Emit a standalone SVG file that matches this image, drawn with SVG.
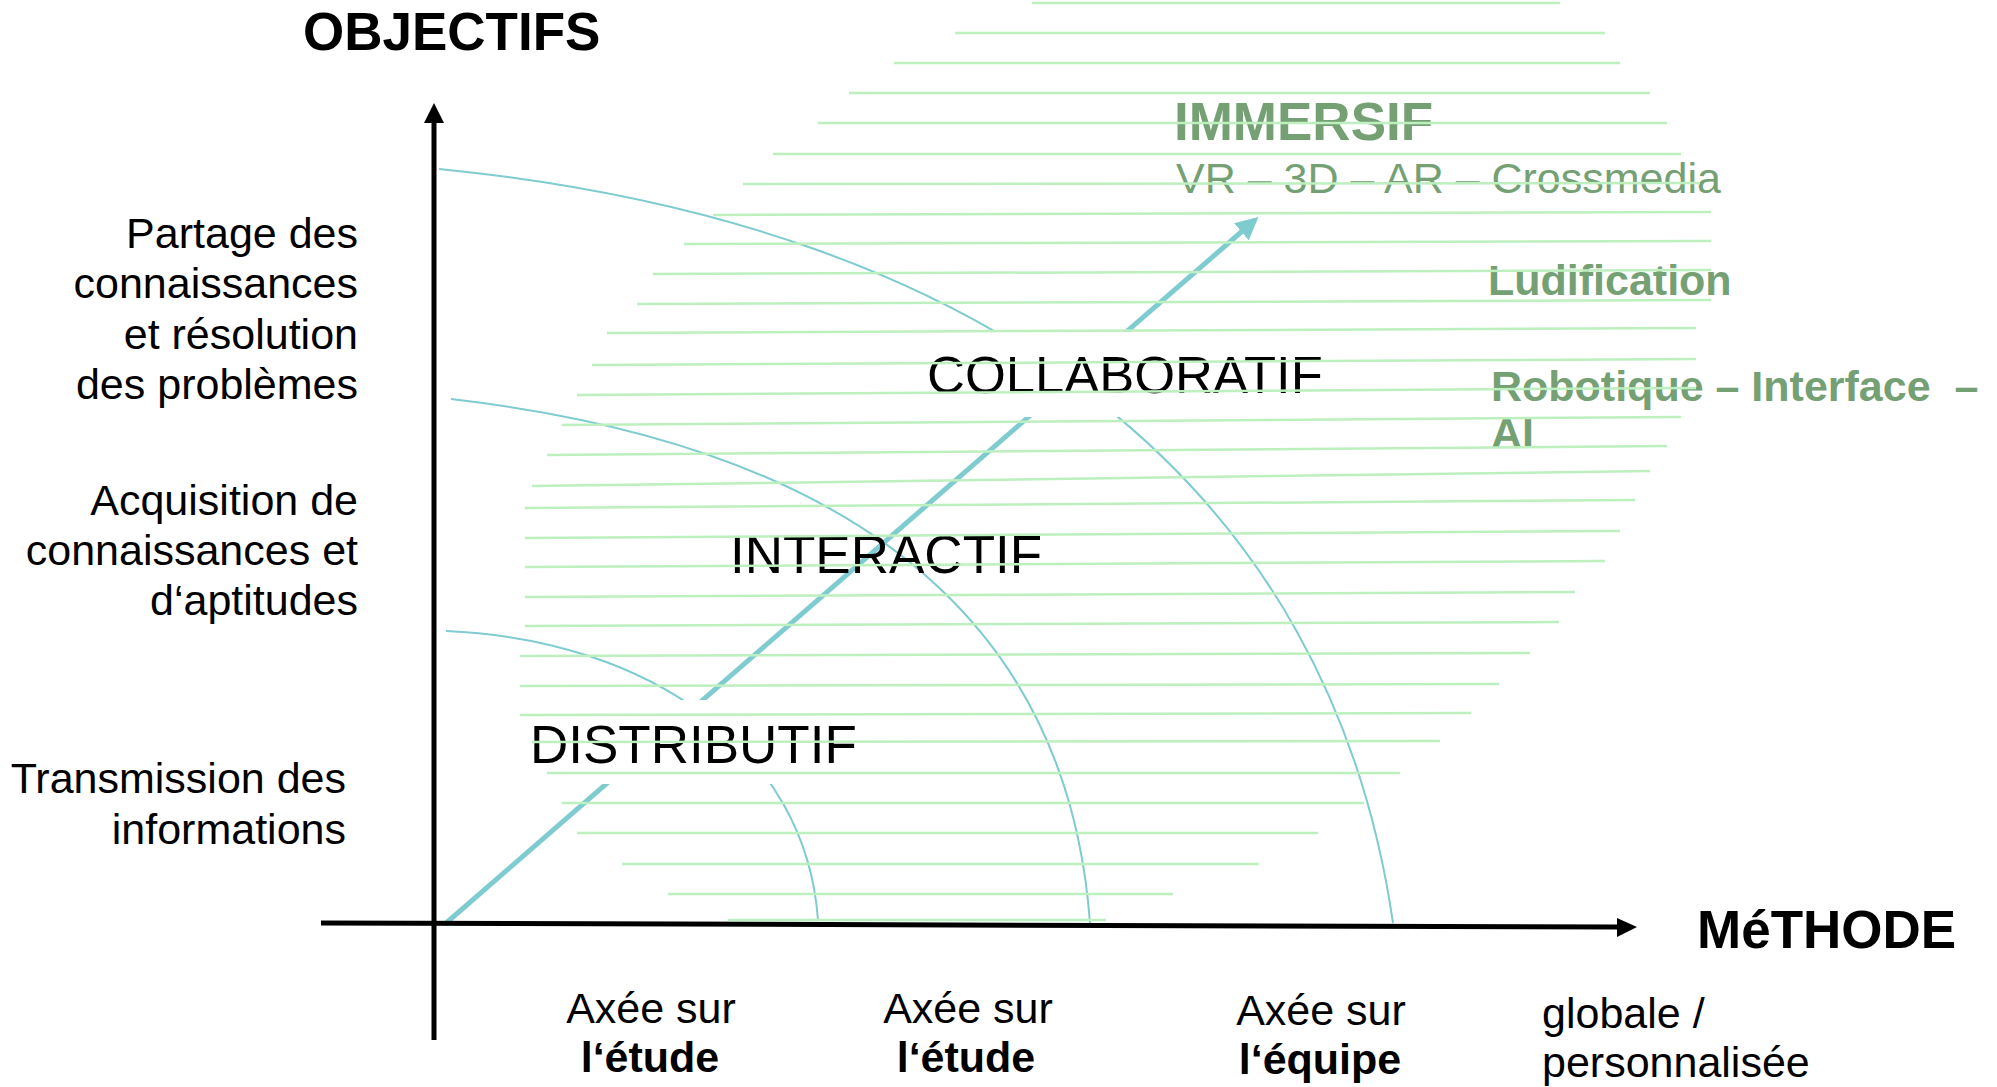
<svg xmlns="http://www.w3.org/2000/svg" width="1997" height="1087" viewBox="0 0 1997 1087">
<style>
.t{font-family:"Liberation Sans",Arial,sans-serif;font-size:43px;fill:#000}
.tr{text-anchor:end}
.tm{text-anchor:middle}
.b{font-weight:bold}
.big{font-size:53px}
.gt{fill:#74a074}
.arc{fill:none;stroke:#7ecbd0;stroke-width:2}
.gl{stroke:#bdefbf;stroke-width:2.5}
.ax{stroke:#000;stroke-width:5;fill:none}
</style>
<defs>
<marker id="tealHead" viewBox="0 0 10 10" refX="8" refY="5" markerWidth="4.5" markerHeight="4.5" orient="auto" markerUnits="strokeWidth">
<path d="M0,0 L10,5 L0,10 z" fill="#7ecbd0"/>
</marker>
</defs>
<rect width="1997" height="1087" fill="#fff"/>

<g id="connectors">
<path class="arc" d="M446,631 C651,640 806,750 818,920"/>
<path class="arc" d="M451,399 C803,440 1065,585 1090,923"/>
<path class="arc" d="M439,169 C1000,225 1330,490 1393,923"/>
<line x1="445" y1="924" x2="1255" y2="220" stroke="#7ecbd0" stroke-width="5" marker-end="url(#tealHead)"/>
</g>

<g id="axes">
<line class="ax" x1="434" y1="120" x2="434" y2="1040"/>
<polygon points="434,103 424,123 444,123" fill="#000"/>
<line class="ax" x1="321" y1="923" x2="1618" y2="927"/>
<polygon points="1637,927 1617,918 1617,937" fill="#000"/>
</g>

<g id="node-distributif">
<rect x="525" y="700" width="340" height="84" fill="#fff"/>
<text class="t big" x="530" y="763">DISTRIBUTIF</text>
</g>
<g id="node-interactif">
<text class="t big" x="730" y="573">INTERACTIF</text>
</g>
<g id="node-collaboratif">
<rect x="920" y="332" width="415" height="85" fill="#fff"/>
<text class="t" style="font-size:52.5px" x="927" y="393">COLLABORATIF</text>
</g>
<g id="node-immersif">
<text class="t big b gt" x="1174" y="140">IMMERSIF</text>
<text class="t gt" x="1176" y="193">VR – 3D – AR – Crossmedia</text>
</g>
<g id="node-ludification">
<text class="t b gt" x="1488" y="295">Ludification</text>
</g>
<g id="node-robotique">
<text class="t b gt" x="1491" y="401" style="white-space:pre">Robotique – Interface  –</text>
<text class="t b gt" x="1491" y="448">AI</text>
</g>

<g id="title-objectifs">
<text class="t big b" x="303" y="50">OBJECTIFS</text>
</g>
<g id="title-methode">
<text class="t big b" x="1697" y="948">MéTHODE</text>
</g>

<g id="label-partage">
<text class="t tr" x="358" y="248">Partage des</text>
<text class="t tr" x="358" y="298">connaissances</text>
<text class="t tr" x="358" y="349">et résolution</text>
<text class="t tr" x="358" y="399">des problèmes</text>
</g>
<g id="label-acquisition">
<text class="t tr" x="358" y="515">Acquisition de</text>
<text class="t tr" x="358" y="565">connaissances et</text>
<text class="t tr" x="358" y="615">d‘aptitudes</text>
</g>
<g id="label-transmission">
<text class="t tr" x="346" y="793">Transmission des</text>
<text class="t tr" x="346" y="844">informations</text>
</g>

<g id="label-etude-1">
<text class="t tm" x="651" y="1023">Axée sur</text>
<text class="t tm b" x="650" y="1072">l‘étude</text>
</g>
<g id="label-etude-2">
<text class="t tm" x="968" y="1023">Axée sur</text>
<text class="t tm b" x="966" y="1072">l‘étude</text>
</g>
<g id="label-equipe">
<text class="t tm" x="1321" y="1025">Axée sur</text>
<text class="t tm b" x="1320" y="1074">l‘équipe</text>
</g>
<g id="label-globale">
<text class="t" x="1542" y="1028">globale /</text>
<text class="t" x="1542" y="1077">personnalisée</text>
</g>

<g id="hatching">
<line class="gl" x1="1032" y1="3" x2="1560" y2="3"/>
<line class="gl" x1="955" y1="33" x2="1605" y2="33"/>
<line class="gl" x1="894" y1="63" x2="1620" y2="63"/>
<line class="gl" x1="849" y1="93" x2="1650" y2="93"/>
<line class="gl" x1="818" y1="123" x2="1667" y2="123"/>
<line class="gl" x1="773" y1="154" x2="1681" y2="154"/>
<line class="gl" x1="743" y1="184" x2="1700" y2="183"/>
<line class="gl" x1="713" y1="215" x2="1711" y2="212"/>
<line class="gl" x1="684" y1="244" x2="1711" y2="241"/>
<line class="gl" x1="653" y1="274" x2="1711" y2="270"/>
<line class="gl" x1="637" y1="304" x2="1711" y2="300"/>
<line class="gl" x1="607" y1="333" x2="1696" y2="328"/>
<line class="gl" x1="592" y1="365" x2="1696" y2="359"/>
<line class="gl" x1="577" y1="395" x2="1696" y2="388"/>
<line class="gl" x1="562" y1="425" x2="1681" y2="417"/>
<line class="gl" x1="547" y1="455" x2="1667" y2="446"/>
<line class="gl" x1="532" y1="486" x2="1650" y2="471"/>
<line class="gl" x1="525" y1="508" x2="1635" y2="500"/>
<line class="gl" x1="525" y1="538" x2="1620" y2="531"/>
<line class="gl" x1="525" y1="567" x2="1605" y2="561"/>
<line class="gl" x1="525" y1="597" x2="1575" y2="592"/>
<line class="gl" x1="525" y1="626" x2="1559" y2="622"/>
<line class="gl" x1="520" y1="656" x2="1530" y2="653"/>
<line class="gl" x1="520" y1="686" x2="1499" y2="684"/>
<line class="gl" x1="520" y1="715" x2="1471" y2="713"/>
<line class="gl" x1="532" y1="742" x2="1440" y2="741"/>
<line class="gl" x1="547" y1="773" x2="1400" y2="773"/>
<line class="gl" x1="562" y1="803" x2="1364" y2="803"/>
<line class="gl" x1="577" y1="833" x2="1318" y2="833"/>
<line class="gl" x1="622" y1="864" x2="1259" y2="864"/>
<line class="gl" x1="668" y1="894" x2="1173" y2="894"/>
<line class="gl" x1="728" y1="920" x2="1106" y2="920"/>
</g>
</svg>
